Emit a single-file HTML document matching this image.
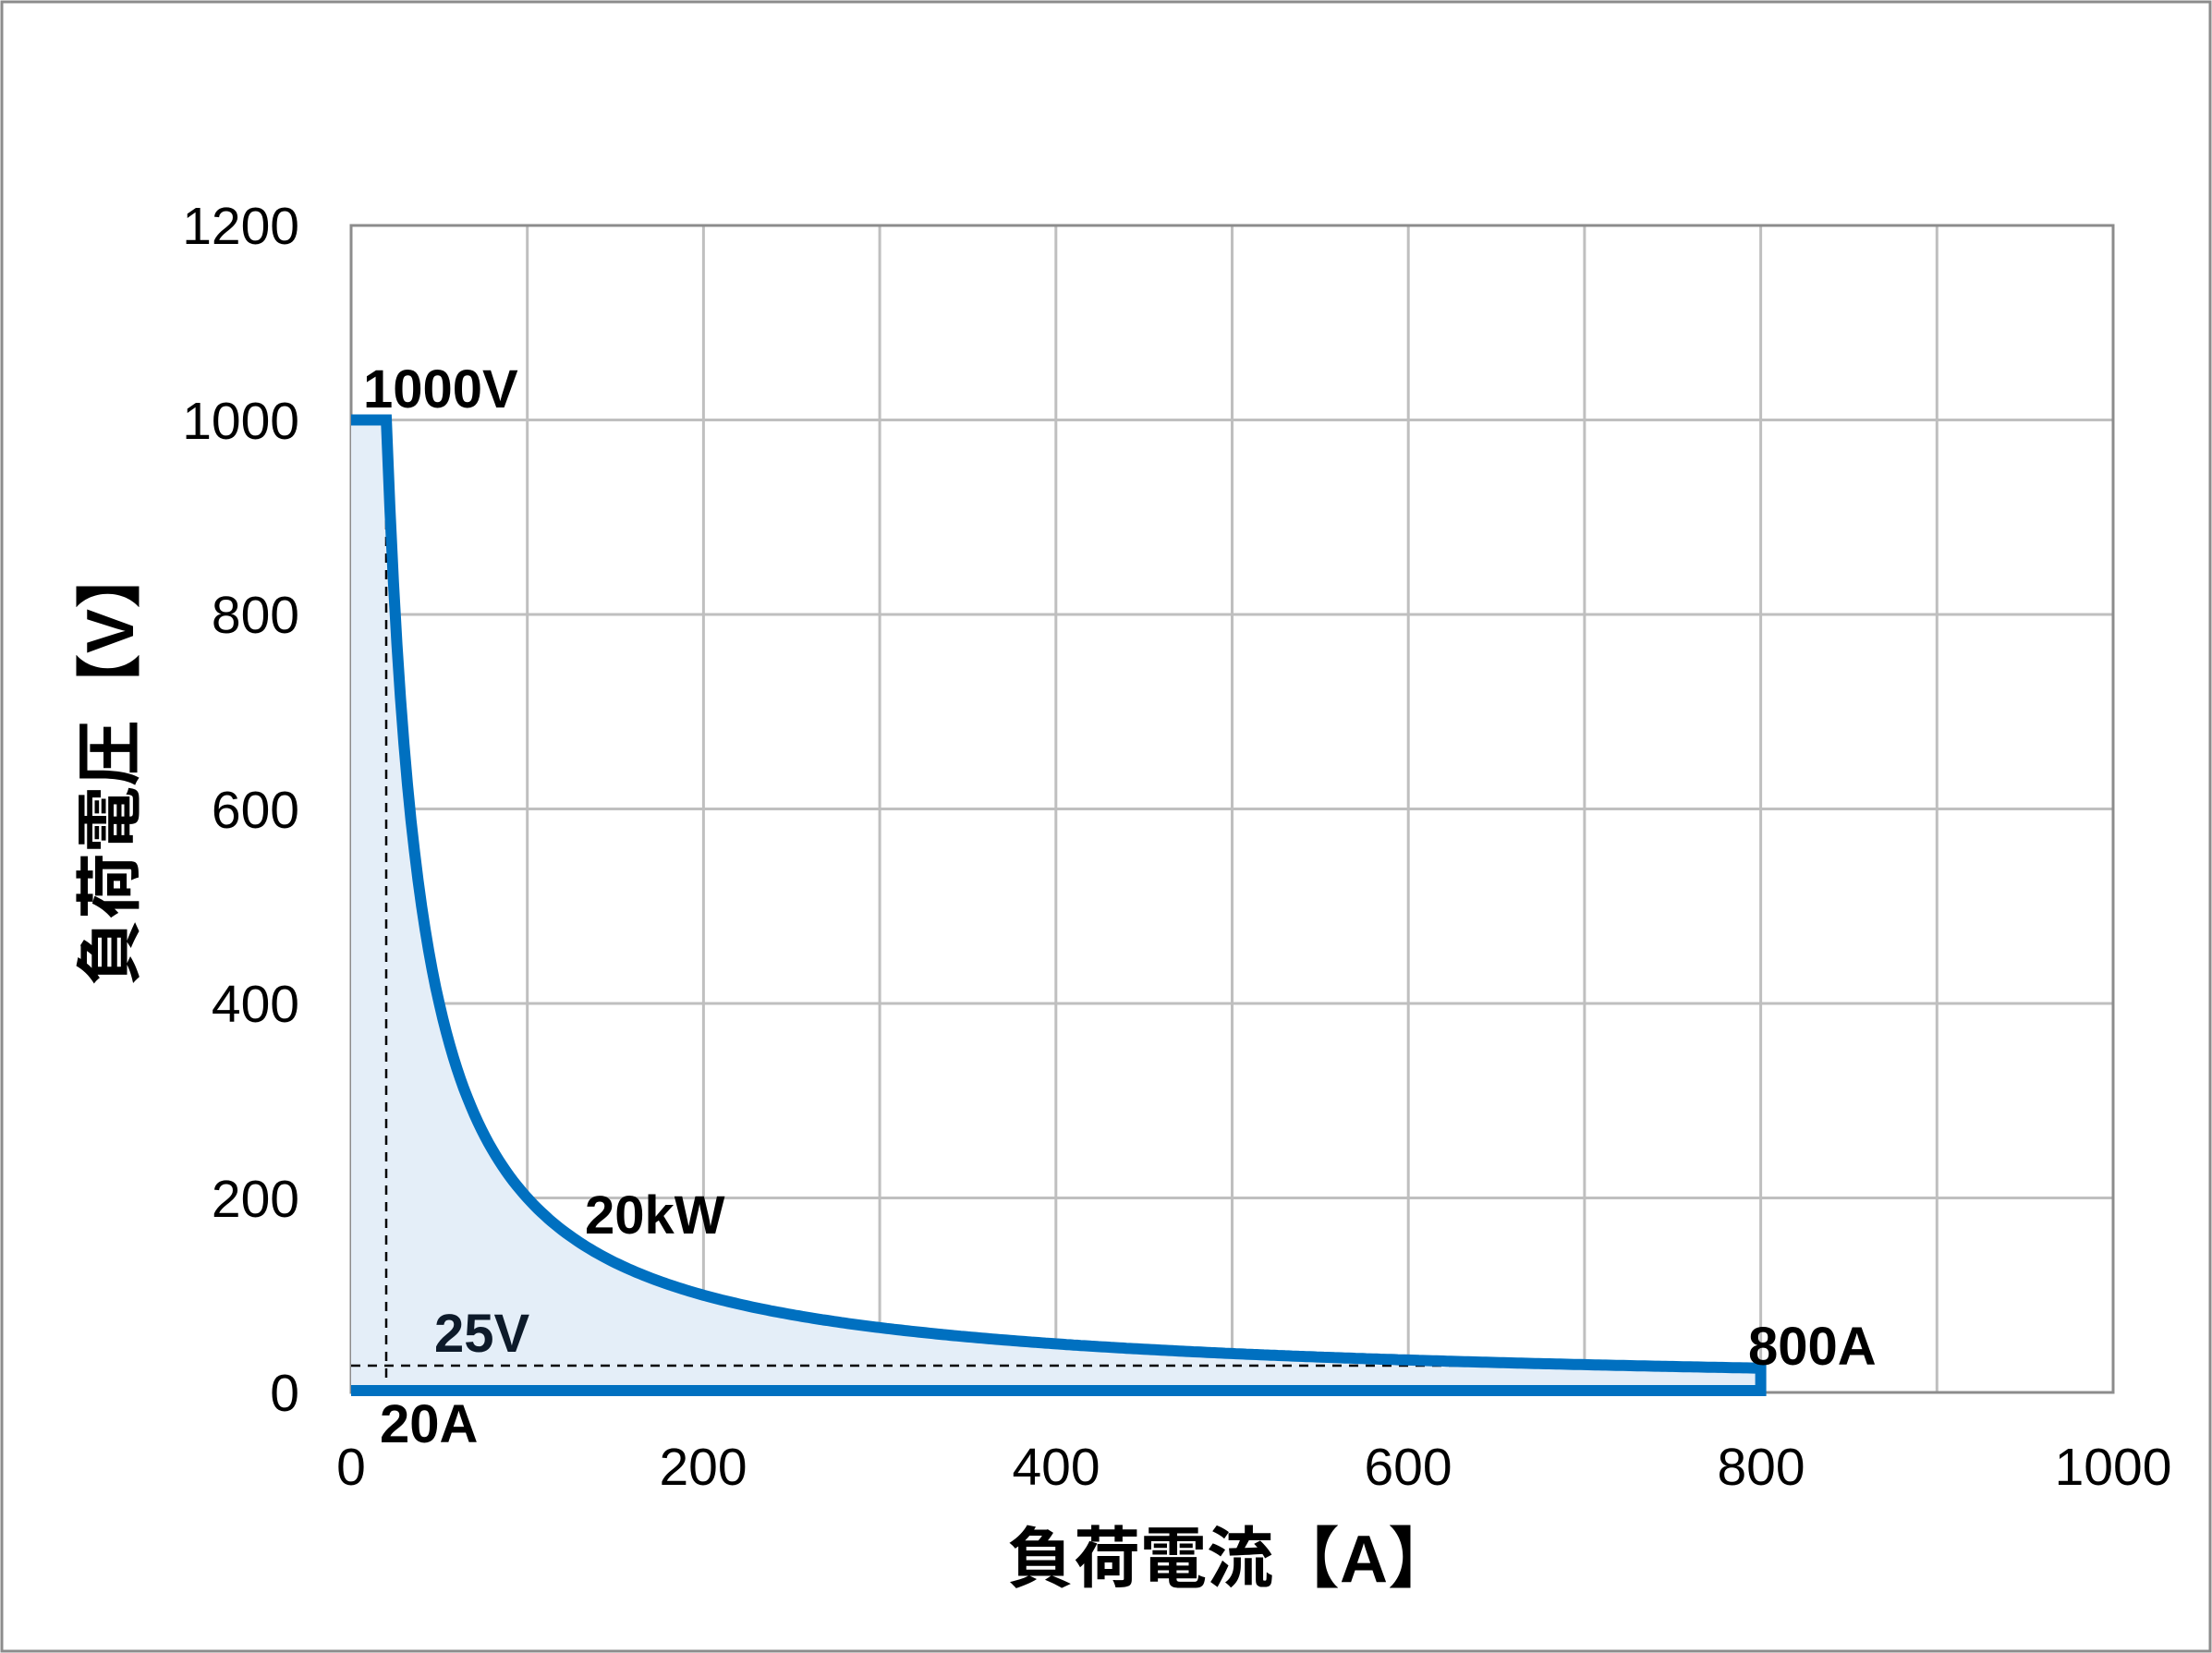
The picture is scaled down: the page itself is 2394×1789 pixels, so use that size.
<!DOCTYPE html>
<html><head><meta charset="utf-8"><style>
html,body{margin:0;padding:0;background:#fff}
svg{display:block}
text{font-family:"Liberation Sans","Noto Sans CJK JP",sans-serif}
</style></head><body>
<svg id="s" width="2394" height="1789" viewBox="0 0 2394 1789" xmlns="http://www.w3.org/2000/svg">
<rect x="2" y="2" width="2390" height="1785" fill="#fff" stroke="#8c8c8c" stroke-width="3"/>
<g id="grid" stroke="#bfbfbf" stroke-width="3"></g>
<rect x="380" y="244" width="1907" height="1263" fill="none" stroke="#8c8c8c" stroke-width="3"/>
<path id="fill" fill="#e4eef8" stroke="none"/>
<g stroke="#000" stroke-width="2.5" stroke-dasharray="10,8" fill="none">
<line x1="418" y1="455" x2="418" y2="1507"/>
<line x1="380" y1="1478" x2="1906" y2="1478"/>
</g>
<path id="curve" fill="none" stroke="#0070c0" stroke-width="12" stroke-linejoin="miter"/>
<g font-size="57" fill="#000" text-anchor="end">
<text x="324" y="264">1200</text>
<text x="324" y="475">1000</text>
<text x="324" y="685">800</text>
<text x="324" y="896">600</text>
<text x="324" y="1106">400</text>
<text x="324" y="1317">200</text>
<text x="324" y="1527">0</text>
</g>
<g font-size="57" fill="#000" text-anchor="middle">
<text x="380" y="1607">0</text>
<text x="761" y="1607">200</text>
<text x="1143" y="1607">400</text>
<text x="1524" y="1607">600</text>
<text x="1906" y="1607">800</text>
<text x="2287" y="1607">1000</text>
</g>
<g font-size="58" font-weight="bold" fill="#000">
<text x="393" y="441">1000V</text>
<text x="633" y="1335">20kW</text>
<text x="470" y="1463" fill="#0d1a2a">25V</text>
<text x="411" y="1561">20A</text>
<text x="1892" y="1477">800A</text>
</g>
<text x="1332" y="1712" font-size="72" font-weight="bold" text-anchor="middle" fill="#000">負荷電流【A】</text>
<text transform="translate(144,827) rotate(-90)" font-size="72" font-weight="bold" text-anchor="middle" fill="#000">負荷電圧【V】</text>
</svg>
<script>
var X=function(i){return 380+i*1.907},Y=function(v){return 1507-v*1.0525};
var g=document.getElementById('grid'),h='';
for(var i=1;i<10;i++){h+='<line x1="'+X(i*100)+'" y1="244" x2="'+X(i*100)+'" y2="1507"/>';}
for(var j=1;j<6;j++){h+='<line x1="380" y1="'+Y(j*200)+'" x2="2287" y2="'+Y(j*200)+'"/>';}
g.innerHTML=h;
var pts=[];for(var I=20;I<=800;I+=2){pts.push(X(I).toFixed(1)+','+Y(20000/I).toFixed(1));}
var c='M380,'+Y(1000)+' L'+pts.join(' L')+' L'+X(800)+','+(Y(0)-2)+' L380,'+(Y(0)-2);
document.getElementById('curve').setAttribute('d',c);
document.getElementById('fill').setAttribute('d',c+' Z');
</script>
</body></html>
